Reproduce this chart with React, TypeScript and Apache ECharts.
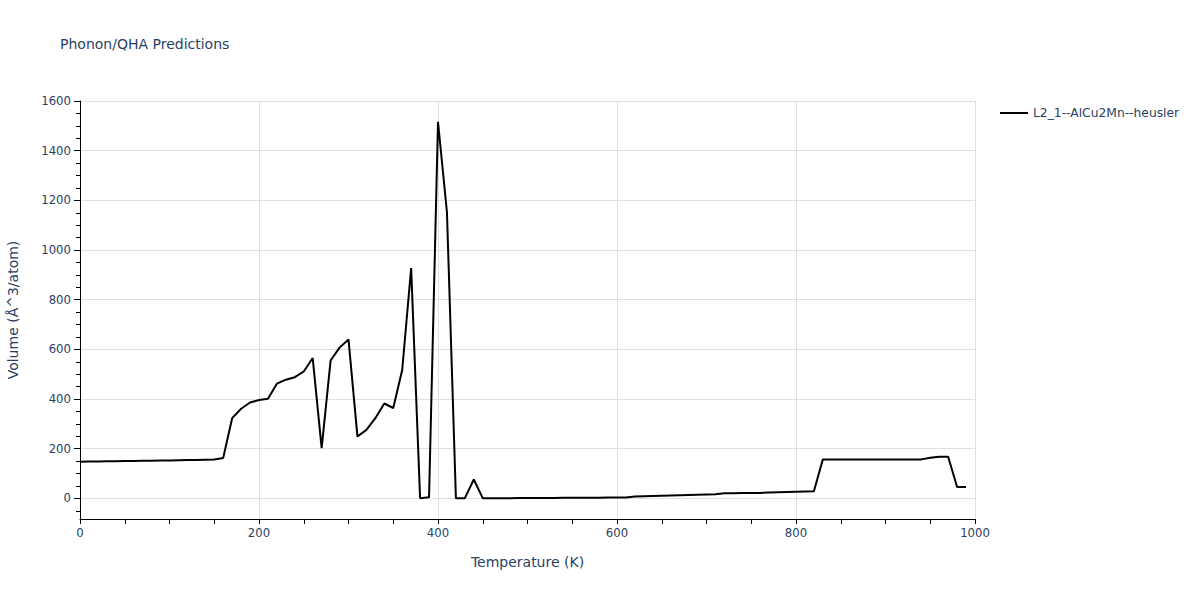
import React, { useEffect, useRef } from "react";
import * as echarts from "echarts";

const temperatures = [
  0, 10, 20, 30, 40, 50, 60, 70, 80, 90,
  100, 110, 120, 130, 140, 150, 160, 170, 180, 190,
  200, 210, 220, 230, 240, 250, 260, 270, 280, 290,
  300, 310, 320, 330, 340, 350, 360, 370, 380, 390,
  400, 410, 420, 430, 440, 450, 460, 470, 480, 490,
  500, 510, 520, 530, 540, 550, 560, 570, 580, 590,
  600, 610, 620, 630, 640, 650, 660, 670, 680, 690,
  700, 710, 720, 730, 740, 750, 760, 770, 780, 790,
  800, 810, 820, 830, 840, 850, 860, 870, 880, 890,
  900, 910, 920, 930, 940, 950, 960, 970, 980, 990,
];

const volumes = [
  148, 149, 149, 150, 150, 151, 151, 152, 152, 153,
  153, 154, 155, 155, 156, 157, 163, 323, 361, 386,
  396, 401, 462, 478, 488, 511, 565, 202, 555, 607,
  640, 249, 276, 323, 382, 364, 517, 927, 1, 5,
  1516, 1152, 1, 1, 76, 1, 1, 1, 1, 2,
  2, 2, 2, 2, 3, 3, 3, 3, 3, 4,
  4, 4, 8, 9, 10, 11, 12, 13, 14, 15,
  16, 17, 21, 21, 22, 22, 22, 24, 25, 26,
  27, 28, 29, 157, 157, 157, 157, 157, 157, 157,
  157, 157, 157, 157, 157, 164, 168, 168, 46, 46,
];

const seriesName = "L2_1--AlCu2Mn--heusler";
const yMajorTicks = [0, 200, 400, 600, 800, 1000, 1200, 1400, 1600];
const yMinorTicks = [
  -50, 50, 100, 150, 250, 300, 350, 450, 500, 550, 650, 700, 750, 850, 900, 950,
  1050, 1100, 1150, 1250, 1300, 1350, 1450, 1500, 1550,
];

const FONT = "'DejaVu Sans', Verdana, sans-serif";
const TEXT_COLOR = "#2a3f5f";

export default function App() {
  const ref = useRef<HTMLDivElement>(null);

  useEffect(() => {
    if (!ref.current) return;
    const chart = echarts.init(ref.current, undefined, { renderer: "svg" });
    const data = temperatures.map((t, i) => [t, volumes[i]]);
    const plain = (v: number) => String(v);
    chart.setOption({
      animation: false,
      backgroundColor: "#ffffff",
      textStyle: { fontFamily: FONT },
      title: {
        text: "Phonon/QHA Predictions",
        left: 60,
        top: 37,
        padding: 0,
        textStyle: {
          fontFamily: FONT,
          fontSize: 14,
          fontWeight: "normal",
          color: TEXT_COLOR,
        },
      },
      legend: {
        left: 1000,
        top: 107,
        padding: 0,
        itemWidth: 28,
        itemHeight: 2,
        textStyle: { fontFamily: FONT, fontSize: 12.3, color: TEXT_COLOR },
        data: [{ name: seriesName, icon: "rect", itemStyle: { color: "#000000" } }],
      },
      grid: {
        left: 80,
        right: 225,
        top: 101,
        bottom: 81,
        containLabel: false,
        outerBoundsMode: "none",
      },
      xAxis: {
        type: "value",
        min: 0,
        max: 1000,
        interval: 200,
        name: "Temperature (K)",
        nameLocation: "middle",
        nameGap: 36,
        nameTextStyle: { fontFamily: FONT, fontSize: 14, color: TEXT_COLOR },
        axisLine: { show: true, onZero: false, lineStyle: { color: "#000", width: 1 } },
        axisTick: { show: true, length: 5, lineStyle: { color: "#000" } },
        minorTick: { show: true, splitNumber: 4, length: 5, lineStyle: { color: "#000" } },
        axisLabel: { fontFamily: FONT, fontSize: 11.7, color: TEXT_COLOR, margin: 8, formatter: plain },
        splitLine: { show: true, lineStyle: { color: "#e0e0e0", width: 1 } },
      },
      yAxis: [
        {
          type: "value",
          min: -83,
          max: 1600,
          splitNumber: 8,
          name: "Volume (Å^3/atom)",
          nameLocation: "middle",
          nameGap: 60,
          nameTextStyle: { fontFamily: FONT, fontSize: 14, color: TEXT_COLOR },
          axisLine: { show: true, onZero: false, lineStyle: { color: "#000", width: 1 } },
          axisTick: { show: true, length: 6, customValues: yMajorTicks, lineStyle: { color: "#000" } },
          axisLabel: {
            fontFamily: FONT,
            fontSize: 11.7,
            color: TEXT_COLOR,
            margin: 9,
            customValues: yMajorTicks,
            formatter: plain,
          },
          splitLine: { show: true, lineStyle: { color: "#e0e0e0", width: 1 } },
        },
        {
          type: "value",
          min: -83,
          max: 1600,
          splitNumber: 8,
          position: "left",
          axisLine: { show: false },
          axisTick: { show: true, length: 4, customValues: yMinorTicks, lineStyle: { color: "#000" } },
          axisLabel: { show: false },
          splitLine: { show: false },
        },
      ],
      series: [
        {
          name: seriesName,
          type: "line",
          yAxisIndex: 0,
          data,
          symbol: "none",
          lineStyle: { color: "#000000", width: 2 },
          itemStyle: { color: "#000000" },
        },
      ],
    });
    return () => chart.dispose();
  }, []);

  return <div ref={ref} style={{ width: 1200, height: 600, position: "absolute", left: 0, top: 0 }} />;
}
